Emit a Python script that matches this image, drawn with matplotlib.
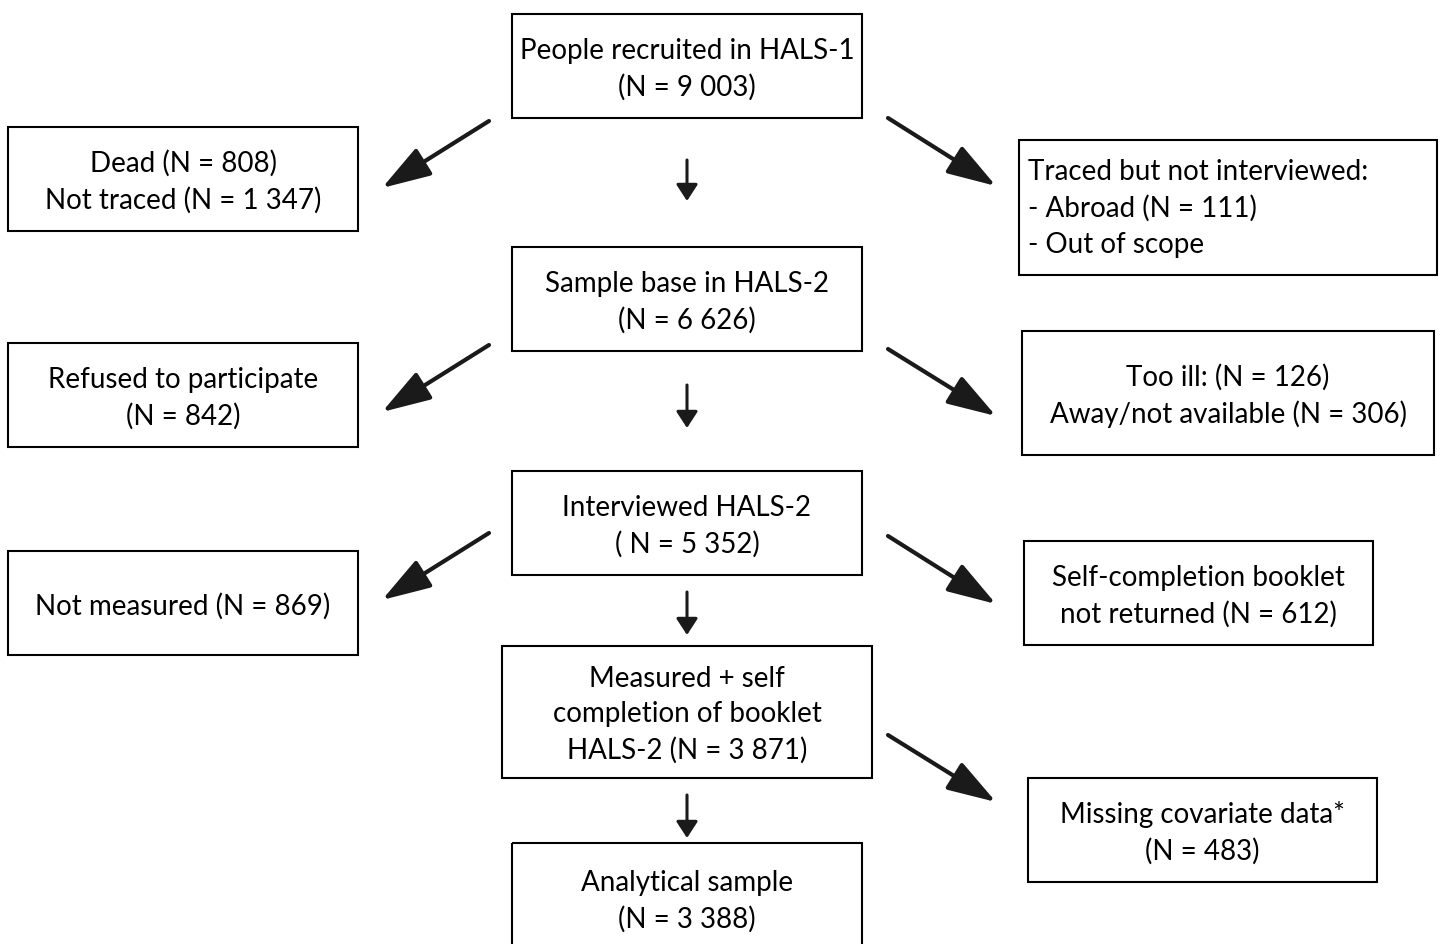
import matplotlib.pyplot as plt
from matplotlib.patches import Rectangle

plt.rcParams["font.family"] = ["Lato", "DejaVu Sans"]
font_size = 20

# box texts
box_texts = ["People recruited in HALS-1\n(N = 9 003)",
             "Dead (N = 808)\nNot traced (N = 1 347)",
             "Traced but not interviewed:\n- Abroad (N = 111)\n- Out of scope",
             "Sample base in HALS-2\n(N = 6 626)",
             "Refused to participate\n(N = 842)",
             "Too ill: (N = 126)\nAway/not available (N = 306)",
             "Interviewed HALS-2\n( N = 5 352)",
             "Not measured (N = 869)",
             "Self-completion booklet\nnot returned (N = 612)",
             "Measured + self\ncompletion of booklet\nHALS-2 (N = 3 871)",
             "Missing covariate data*\n(N = 483)",
             "Analytical sample\n(N = 3 388)"]
# box extents in pixels: x0, y0, x1, y1
box_pos = [(512, 14, 862, 118),
           (8, 127, 358, 231),
           (1019, 140, 1437, 275),
           (512, 247, 862, 351),
           (8, 343, 358, 447),
           (1022, 331, 1434, 455),
           (512, 471, 862, 575),
           (8, 551, 358, 655),
           (1024, 541, 1373, 645),
           (502, 646, 872, 778),
           (1028, 778, 1377, 882),
           (512, 843, 862, 990)]
left_aligned = [2]

# arrows (start -> end)
down_arrows = [((687, 160), (687, 201)), ((687, 385), (687, 428)),
               ((687, 592), (687, 635)), ((687, 795), (687, 838))]
diag_arrows = [((489, 121), (382, 188)), ((489, 345), (382, 412)),
               ((489, 533), (382, 600)),
               ((888, 118), (996, 186)), ((888, 349), (996, 416)),
               ((888, 536), (996, 604)), ((888, 735), (996, 802))]

fig = plt.figure(figsize=(14.4, 9.44), dpi=100)
ax = fig.add_axes([0, 0, 1, 1])
ax.set_xlim(0, 1440)
ax.set_ylim(944, 0)
ax.axis('off')

for idx, (txt, (x0, y0, x1, y1)) in enumerate(zip(box_texts, box_pos)):
    ax.add_patch(Rectangle((x0, y0), x1 - x0, y1 - y0, fill=False,
                           edgecolor='black', lw=1.5))
    yc = (y0 + y1) / 2 + 3 if y1 < 944 else 901
    if idx in left_aligned:
        ax.text(x0 + 9, yc - 2, txt, ha='left', va='center', fontsize=font_size,
                linespacing=1.45)
    else:
        ax.text((x0 + x1) / 2, yc, txt, ha='center', va='center',
                fontsize=font_size, linespacing=1.45)

for s, e in down_arrows:
    ax.annotate('', xy=e, xytext=s,
                arrowprops=dict(arrowstyle='-|>,head_length=1.0,head_width=0.65',
                                lw=2.2, color='#1a1a1a', mutation_scale=10,
                                shrinkA=0, shrinkB=0))
for s, e in diag_arrows:
    ax.annotate('', xy=e, xytext=s,
                arrowprops=dict(arrowstyle='-|>,head_length=1.5,head_width=0.48',
                                lw=3, color='#1a1a1a', mutation_scale=20,
                                shrinkA=0, shrinkB=0))

fig.savefig("out.png", dpi=100)
